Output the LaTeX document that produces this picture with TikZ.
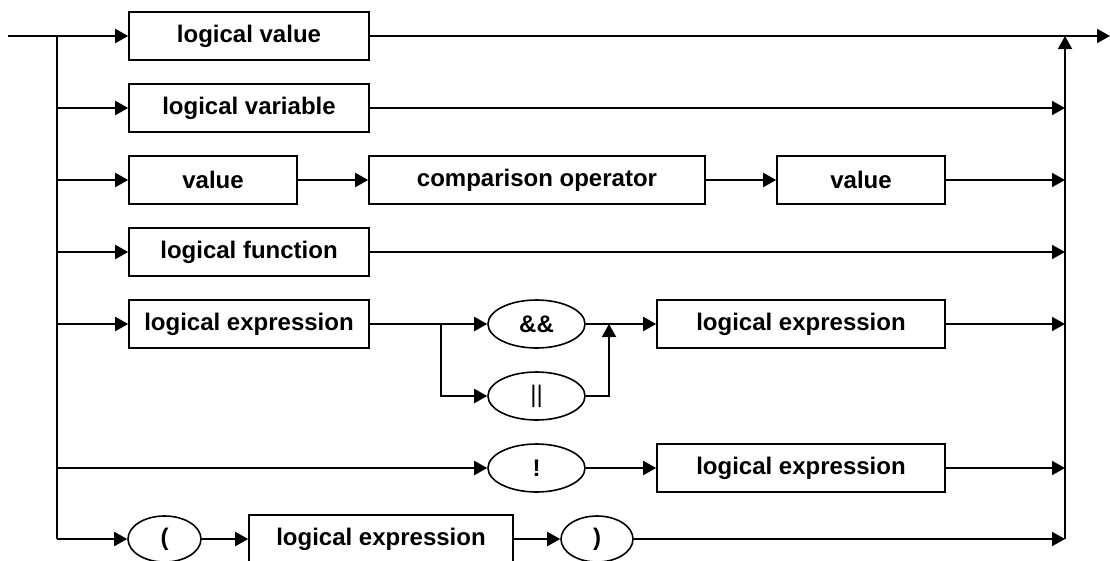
\documentclass[tikz,border=0pt]{standalone}
\usepackage{fontspec}
\setmainfont{Liberation Sans}
\usetikzlibrary{arrows.meta,shapes.geometric}
\tikzset{
  conn/.style={line width=1.9pt},
  arr/.style={conn,-{Triangle[length=13pt,width=14pt]}},
  box/.style={draw,line width=1.6pt,rectangle,inner sep=0pt,minimum height=48pt,font=\fontsize{24}{28}\selectfont\bfseries},
  oval/.style={draw,line width=1.6pt,ellipse,inner sep=0pt,minimum height=48pt,minimum width=97pt,font=\fontsize{24}{28}\selectfont\bfseries},
}
\begin{document}
\begin{tikzpicture}[x=1pt,y=-1pt]
\useasboundingbox (0,0) rectangle (1110,560);
\clip (0,0) rectangle (1110,560);
% nodes
\node[box,minimum width=240pt] (b1) at (249,36) {logical value};
\node[box,minimum width=240pt] (b2) at (249,108) {logical variable};
\node[box,minimum width=168pt] (v1) at (213,180) {value};
\node[box,minimum width=336pt] (cmp) at (537,180) {comparison operator};
\node[box,minimum width=168pt] (v2) at (861,180) {value};
\node[box,minimum width=240pt] (lf) at (249,252) {logical function};
\node[box,minimum width=240pt] (le1) at (249,324) {logical expression};
\node[oval] (and) at (536.5,324) {\&\&};
\node[oval,font=\fontsize{24}{28}\selectfont] (or) at (536.5,396) {||};
\node[box,minimum width=288pt] (le2) at (801,324) {logical expression};
\node[oval] (not) at (536.5,468) {!};
\node[box,minimum width=288pt] (le3) at (801,468) {logical expression};
\node[oval,minimum width=73pt,minimum height=46pt] (lp) at (164.5,539) {(};
\node[box,minimum width=264pt] (le4) at (381,539) {logical expression};
\node[oval,minimum width=72pt,minimum height=46pt] (rp) at (597,539) {)};
% coordinates
\coordinate (start) at (8,36);
\coordinate (jl1) at (57,36);
\coordinate (jl2) at (57,108);
\coordinate (jl3) at (57,180);
\coordinate (jl4) at (57,252);
\coordinate (jl5) at (57,324);
\coordinate (jl6) at (57,468);
\coordinate (jl7) at (57,539);
\coordinate (end) at (1110,36);
\coordinate (jr1) at (1065,36);
\coordinate (jr2) at (1065,108);
\coordinate (jr3) at (1065,180);
\coordinate (jr4) at (1065,252);
\coordinate (jr5) at (1065,324);
\coordinate (jr6) at (1065,468);
\coordinate (jr7) at (1065,539);
\coordinate (sa) at (441,324);
\coordinate (sb) at (441,396);
\coordinate (ma) at (609,324);
\coordinate (mb) at (609,396);
% left side
\draw[arr] (start) -- (b1.west);
\draw[conn] (jl1) -- (jl7);
\draw[arr] (jl2) -- (b2.west);
\draw[arr] (jl3) -- (v1.west);
\draw[arr] (jl4) -- (lf.west);
\draw[arr] (jl5) -- (le1.west);
\draw[arr] (jl6) -- (not.west);
\draw[arr] (jl7) -- (lp.west);
% inner connectors
\draw[arr] (v1.east) -- (cmp.west);
\draw[arr] (cmp.east) -- (v2.west);
\draw[arr] (le1.east) -- (and.west);
\draw[arr] (sa) -- (sb) -- (or.west);
\draw[conn] (and.east) -- (ma);
\draw[arr] (or.east) -- (mb) -- (ma);
\draw[arr] (ma) -- (le2.west);
\draw[arr] (not.east) -- (le3.west);
\draw[arr] (lp.east) -- (le4.west);
\draw[arr] (le4.east) -- (rp.west);
% right side
\draw[arr] (b1.east) -- (end);
\draw[arr] (jr7) -- (jr1);
\draw[arr] (b2.east) -- (jr2);
\draw[arr] (v2.east) -- (jr3);
\draw[arr] (lf.east) -- (jr4);
\draw[arr] (le2.east) -- (jr5);
\draw[arr] (le3.east) -- (jr6);
\draw[arr] (rp.east) -- (jr7);
\end{tikzpicture}
\end{document}
